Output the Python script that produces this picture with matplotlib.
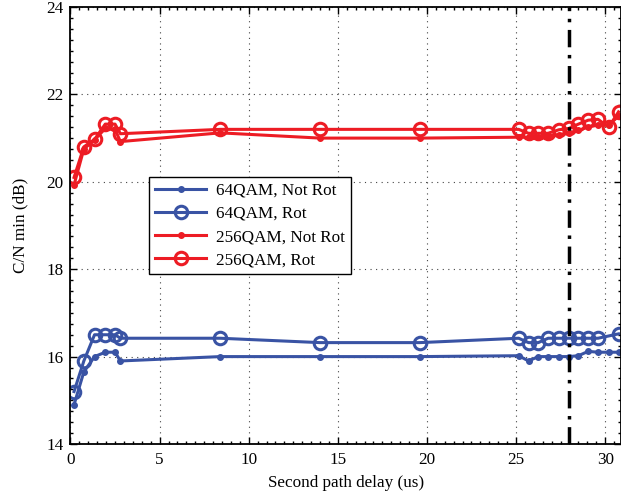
import matplotlib
matplotlib.use('Agg')
import matplotlib.pyplot as plt
from matplotlib.ticker import MultipleLocator

plt.rcParams['font.family'] = ['Liberation Serif', 'DejaVu Serif']

# delays (us)
delay_all = [0.2, 0.75, 1.35, 1.95, 2.5, 2.8, 8.4, 14.0, 19.6,
             25.15, 25.7, 26.25, 26.8, 27.4, 27.95, 28.5, 29.05, 29.6, 30.2, 30.75]
delay_64rot = [0.2, 0.75, 1.35, 1.95, 2.5, 2.8, 8.4, 14.0, 19.6,
               25.15, 25.7, 26.25, 26.8, 27.4, 27.95, 28.5, 29.05, 29.6, 30.75]

qam64_notrot = [14.9, 15.65, 16.0, 16.1, 16.1, 15.9, 16.0, 16.0, 16.0,
                16.02, 15.9, 16.0, 16.0, 16.0, 16.0, 16.02, 16.12, 16.1, 16.1, 16.1]
qam64_rot = [15.2, 15.9, 16.5, 16.5, 16.5, 16.42, 16.42, 16.32, 16.32,
             16.42, 16.32, 16.32, 16.42, 16.42, 16.42, 16.42, 16.42, 16.42, 16.52]
qam256_notrot = [19.93, 20.75, 20.96, 21.22, 21.2, 20.92, 21.12, 21.0, 21.0,
                 21.02, 21.02, 21.02, 21.05, 21.08, 21.12, 21.18, 21.25, 21.3, 21.3, 21.5]
qam256_rot = [20.1, 20.8, 20.97, 21.32, 21.32, 21.1, 21.2, 21.2, 21.2,
              21.2, 21.11, 21.11, 21.11, 21.19, 21.22, 21.32, 21.41, 21.43, 21.25, 21.6]

limit_delay = 28.0

blue = '#3953a4'
red = '#ed1c24'

fig = plt.figure(figsize=(6.21, 4.93), dpi=100)
ax = fig.add_axes([0.1135, 0.0994, 0.8865, 0.8864])

ax.plot(delay_all, qam64_notrot, color=blue, lw=2.2, marker='o', ms=4,
        label='64QAM, Not Rot')
ax.plot(delay_64rot, qam64_rot, color=blue, lw=2.2, marker='o', ms=9,
        mfc='none', mew=2.2, label='64QAM, Rot')
ax.plot(delay_all, qam256_notrot, color=red, lw=2.2, marker='o', ms=4,
        label='256QAM, Not Rot')
ax.plot(delay_all, qam256_rot, color=red, lw=2.2, marker='o', ms=9,
        mfc='none', mew=2.2, label='256QAM, Rot')

ax.axvline(limit_delay, color='black', lw=2.5, linestyle=(0, (5, 2.2, 1, 2.2)))

ax.set_xlim(0, 30.89)
ax.set_ylim(14, 24)
ax.xaxis.set_major_locator(MultipleLocator(5))
ax.yaxis.set_major_locator(MultipleLocator(2))
ax.xaxis.set_minor_locator(MultipleLocator(0.5))
ax.yaxis.set_minor_locator(MultipleLocator(0.25))
ax.tick_params(which='both', direction='in', top=True, right=True,
               labelsize=12.3, width=1)
ax.tick_params(which='major', length=5)
ax.tick_params(which='minor', length=2)
ax.tick_params(axis='x', pad=6)
ax.tick_params(axis='y', pad=5)
ax.grid(True, linestyle=(0, (1, 4)), color='#444444', lw=0.8)
for s in ax.spines.values():
    s.set_linewidth(1.3)

ax.set_xlabel('Second path delay (us)', fontsize=12.3, labelpad=5)
ax.set_ylabel('C/N min (dB)', fontsize=12.3, labelpad=13)

leg = ax.legend(loc='upper left', bbox_to_anchor=(0.1426, 0.6117),
                fontsize=12.3, handlelength=3.0, fancybox=False,
                edgecolor='black', framealpha=1, borderpad=0.35,
                labelspacing=0.42, borderaxespad=0, handletextpad=0.6)
leg.get_frame().set_linewidth(1.0)

fig.savefig('out.png', dpi=100)
